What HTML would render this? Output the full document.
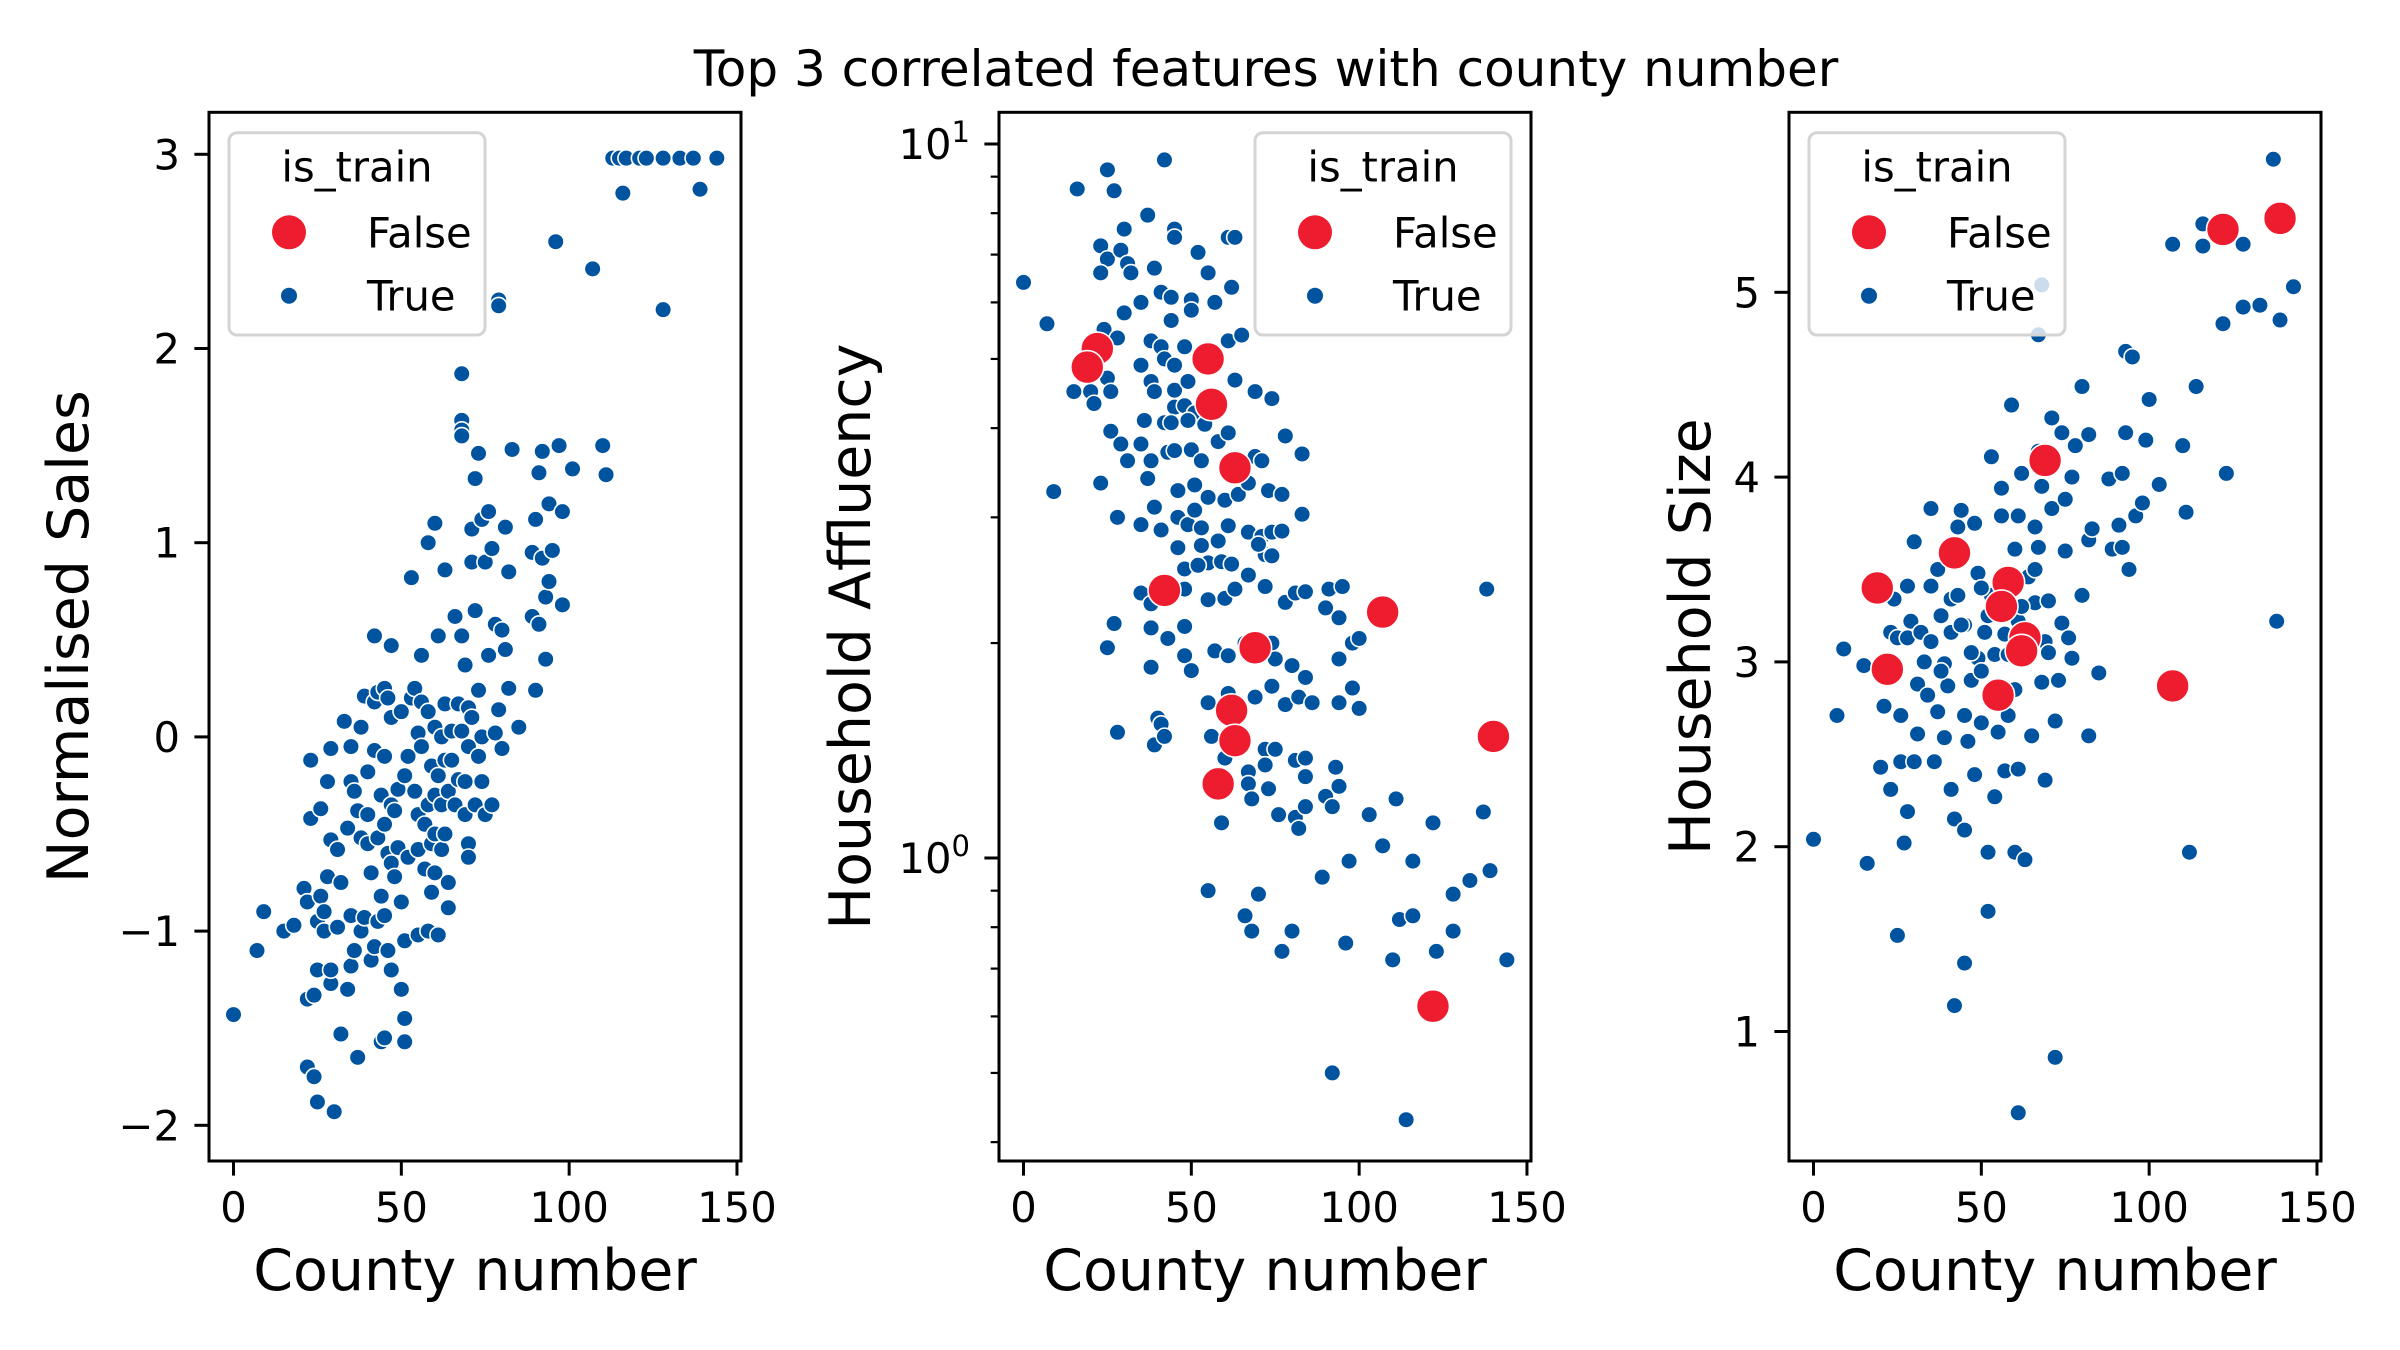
<!DOCTYPE html>
<html><head><meta charset="utf-8">
<style>
html,body{margin:0;padding:0;background:#fff;}
svg{display:block;font-family:"DejaVu Sans","Liberation Sans",sans-serif;}
</style></head>
<body>
<svg id="fig" width="2400" height="1350" viewBox="0 0 2400 1350" xmlns="http://www.w3.org/2000/svg">
<rect width="2400" height="1350" fill="#fff"/>
<text x="1266" y="86" font-size="50" text-anchor="middle">Top 3 correlated features with county number</text>
<g id="p1"></g>
<g id="p2"></g>
<g id="p3"></g>
</svg>
<script>
// ---- data ----
const xTicks = [0, 50, 100, 150];
const p1YTicks = [-2, -1, 0, 1, 2, 3];
const p2YMajor = [1, 10];
const p2YMinor = [0.4,0.5,0.6,0.7,0.8,0.9,2,3,4,5,6,7,8,9];
const p3YTicks = [1, 2, 3, 4, 5];
const legendLabels = ["False", "True"];

const p1True = [[0,-1.43],[7,-1.1],[9,-0.9],[15,-1.0],[18,-0.97],[21,-0.78],[22,-0.85],[22,-1.35],[22,-1.7],[23,-0.12],[23,-0.42],[24,-1.33],[24,-1.75],[25,-0.95],[25,-1.2],[25,-1.88],[26,-0.82],[26,-0.37],[27,-0.9],[27,-1.0],[28,-0.23],[28,-0.72],[29,-0.06],[29,-0.53],[29,-1.27],[29,-1.2],[30,-1.93],[31,-0.58],[31,-0.98],[32,-0.75],[32,-1.53],[33,0.08],[34,-0.47],[34,-1.3],[35,-0.23],[35,-0.05],[35,-0.92],[35,-1.18],[36,-0.28],[36,-1.1],[37,-0.38],[37,-1.65],[38,0.05],[38,-0.52],[38,-1.0],[39,0.21],[39,-0.93],[40,-0.55],[40,-0.18],[40,-0.4],[41,-1.15],[41,-0.7],[42,0.52],[42,0.18],[42,-0.07],[42,-1.08],[43,0.23],[43,-0.52],[43,-0.95],[44,-0.3],[44,-0.82],[44,-1.57],[45,0.25],[45,-0.1],[45,-0.45],[45,-0.92],[45,-1.55],[46,0.2],[46,-0.6],[46,-1.1],[47,0.47],[47,0.1],[47,-0.35],[47,-0.65],[47,-1.2],[48,-0.38],[48,-0.72],[49,-0.27],[49,-0.57],[50,0.13],[50,-0.85],[50,-1.3],[51,-0.2],[51,-1.05],[51,-1.45],[51,-1.57],[52,-0.1],[52,-0.62],[53,0.82],[53,0.2],[54,0.25],[54,-0.28],[55,0.02],[55,-0.4],[55,-0.58],[55,-1.02],[56,0.42],[56,0.18],[56,-0.05],[57,-0.45],[57,-0.68],[58,1.0],[58,0.13],[58,-0.35],[58,-1.0],[59,-0.15],[59,-0.55],[59,-0.8],[60,1.1],[60,0.05],[60,-0.3],[60,-0.5],[60,-0.7],[61,0.52],[61,-0.2],[61,-1.02],[62,0.0],[62,-0.35],[62,-0.58],[63,0.86],[63,0.17],[63,-0.12],[63,-0.5],[64,-0.28],[64,-0.75],[64,-0.88],[65,0.03],[65,-0.12],[66,0.62],[66,-0.35],[67,0.17],[67,-0.22],[68,1.87],[68,1.63],[68,1.58],[68,1.55],[68,0.52],[68,0.03],[69,0.37],[69,-0.23],[69,-0.4],[70,0.15],[70,-0.05],[70,-0.55],[70,-0.62],[71,1.07],[71,0.9],[71,0.1],[72,1.33],[72,0.65],[72,-0.35],[73,1.46],[73,0.24],[73,-0.1],[74,1.12],[74,0.0],[74,-0.23],[75,0.9],[75,-0.4],[76,1.16],[76,0.42],[77,0.97],[77,-0.35],[78,0.58],[78,0.02],[79,2.25],[79,2.22],[79,0.14],[80,0.55],[80,-0.06],[81,1.08],[81,0.45],[82,0.85],[82,0.25],[83,1.48],[85,0.05],[89,0.95],[89,0.62],[90,1.12],[90,0.24],[91,1.36],[91,0.58],[92,1.47],[92,0.92],[93,0.72],[93,0.4],[94,1.2],[94,0.8],[95,0.96],[96,2.55],[97,1.5],[98,1.16],[98,0.68],[101,1.38],[107,2.41],[110,1.5],[111,1.35],[113,2.98],[115,2.98],[116,2.8],[117,2.98],[121,2.98],[123,2.98],[128,2.98],[128,2.2],[133,2.98],[137,2.98],[139,2.82],[144,2.98]];

const p2True = [[0,6.4],[7,5.6],[9,3.26],[16,8.65],[25,9.2],[27,8.6],[42,9.5],[37,7.95],[30,7.6],[23,7.2],[25,6.9],[23,6.6],[29,7.1],[31,6.8],[32,6.6],[39,6.7],[45,7.6],[45,7.4],[52,7.05],[55,6.6],[61,7.4],[63,7.4],[57,6.0],[62,6.3],[41,6.2],[44,6.1],[50,6.05],[50,5.85],[44,5.66],[35,6.0],[30,5.8],[24,5.5],[28,5.35],[38,5.3],[41,5.2],[48,5.2],[61,5.3],[65,5.4],[35,4.9],[42,5.0],[45,4.9],[25,4.7],[26,4.5],[15,4.5],[20,4.5],[21,4.33],[38,4.65],[39,4.5],[45,4.52],[49,4.65],[63,4.67],[69,4.5],[74,4.4],[45,4.28],[48,4.3],[51,4.2],[36,4.1],[42,4.07],[44,4.07],[49,4.1],[54,4.05],[26,3.96],[29,3.8],[35,3.8],[31,3.6],[38,3.6],[43,3.7],[45,3.72],[50,3.73],[53,3.6],[58,3.83],[61,3.94],[69,3.65],[71,3.6],[78,3.9],[83,3.68],[37,3.4],[46,3.27],[51,3.33],[55,3.2],[60,3.17],[64,3.23],[67,3.35],[73,3.27],[77,3.23],[23,3.35],[28,3.0],[35,2.93],[39,3.1],[41,2.88],[46,3.0],[49,2.93],[51,3.07],[53,2.9],[58,2.78],[61,2.92],[67,2.86],[71,2.82],[74,2.86],[77,2.87],[83,3.03],[46,2.72],[53,2.74],[55,2.59],[59,2.6],[62,2.58],[72,2.66],[74,2.65],[70,2.75],[48,2.54],[52,2.57],[35,2.35],[38,2.27],[48,2.38],[55,2.3],[60,2.31],[63,2.38],[67,2.49],[72,2.4],[78,2.28],[81,2.35],[84,2.36],[90,2.24],[91,2.38],[95,2.4],[94,2.17],[138,2.38],[27,2.13],[25,1.97],[38,2.1],[43,2.03],[48,2.11],[48,1.92],[50,1.83],[57,1.95],[61,1.92],[66,2.0],[74,2.0],[75,1.9],[80,1.86],[84,1.79],[94,1.9],[98,2.0],[100,2.03],[38,1.85],[55,1.65],[61,1.7],[69,1.68],[74,1.74],[78,1.64],[82,1.68],[86,1.65],[94,1.65],[98,1.73],[100,1.62],[40,1.57],[41,1.54],[28,1.5],[39,1.44],[42,1.48],[56,1.48],[60,1.38],[67,1.32],[72,1.42],[75,1.42],[67,1.27],[72,1.35],[73,1.25],[81,1.37],[84,1.38],[84,1.3],[93,1.34],[94,1.26],[90,1.22],[92,1.18],[76,1.15],[81,1.14],[82,1.1],[84,1.18],[103,1.15],[107,1.04],[111,1.21],[68,1.21],[59,1.12],[122,1.12],[137,1.16],[97,0.99],[89,0.94],[116,0.99],[55,0.9],[66,0.83],[70,0.89],[68,0.79],[77,0.74],[80,0.79],[96,0.76],[112,0.82],[116,0.83],[110,0.72],[123,0.74],[128,0.89],[133,0.93],[128,0.79],[139,0.96],[144,0.72],[92,0.5],[114,0.43]];
const p2False = [[22,5.17],[19,4.87],[55,5.0],[56,4.32],[63,3.52],[42,2.37],[69,1.97],[107,2.21],[62,1.61],[63,1.46],[58,1.27],[140,1.48],[122,0.62]];

const p3True = [[0,2.04],[7,2.71],[9,3.07],[15,2.98],[16,1.91],[20,2.43],[21,2.76],[23,2.31],[23,3.16],[24,3.34],[25,1.52],[25,3.13],[26,2.46],[26,2.71],[27,2.02],[28,3.13],[28,3.41],[28,2.19],[29,3.22],[30,2.46],[30,3.65],[31,2.61],[31,2.88],[32,3.16],[34,2.82],[35,3.83],[35,3.41],[35,3.11],[36,2.46],[37,2.73],[37,3.5],[38,3.25],[39,2.99],[39,2.59],[40,2.87],[41,2.31],[41,3.16],[41,3.34],[42,2.15],[42,1.14],[43,3.73],[43,3.36],[44,3.82],[45,2.09],[45,3.2],[45,2.71],[45,1.37],[46,2.57],[47,2.9],[48,3.75],[48,2.39],[49,3.48],[49,3.02],[50,2.67],[50,2.95],[51,3.16],[52,1.97],[52,1.65],[53,4.11],[53,3.36],[54,2.27],[54,3.04],[55,2.62],[56,3.79],[56,3.94],[57,2.41],[58,2.71],[58,3.04],[59,4.39],[60,3.61],[60,1.97],[61,3.22],[61,3.79],[61,0.56],[61,2.42],[62,4.02],[63,1.93],[64,3.46],[65,2.6],[66,3.73],[66,3.32],[67,3.62],[67,4.14],[67,4.77],[68,3.95],[68,5.04],[68,2.89],[69,2.36],[69,3.11],[70,3.33],[71,4.32],[71,3.83],[72,0.86],[72,2.68],[73,2.9],[74,4.24],[74,3.21],[75,3.88],[75,3.6],[76,3.13],[77,4.0],[77,3.02],[78,4.17],[80,4.49],[80,3.36],[82,4.23],[82,3.66],[82,2.6],[83,3.72],[85,2.94],[88,3.99],[89,3.61],[91,3.74],[92,4.02],[92,3.62],[93,4.24],[93,4.68],[94,3.5],[95,4.65],[96,3.79],[98,3.86],[99,4.2],[100,4.42],[103,3.96],[107,5.26],[110,4.17],[111,3.81],[112,1.97],[114,4.49],[116,5.37],[116,5.25],[122,4.83],[123,4.02],[128,5.26],[128,4.92],[133,4.93],[137,5.72],[138,3.22],[139,4.85],[143,5.03],[44,3.2],[47,3.05],[52,3.25],[57,3.15],[62,3.3],[65,3.1],[70,3.05],[33,3.0],[38,2.95],[50,3.4],[60,2.85],[66,3.5]];
const p3False = [[19,3.4],[22,2.96],[42,3.59],[58,3.43],[56,3.3],[63,3.13],[62,3.06],[55,2.82],[69,4.09],[122,5.34],[139,5.4],[107,2.87]];

// ---- layout ----
const NS = "http://www.w3.org/2000/svg";
const BLUE = "#00539f", RED = "#ee1c2f";
const TOP = 112.3, BOT = 1161;
const XMIN = -7.3, XMAX = 151.2;

function mk(tag, attrs, parent){
  const e = document.createElementNS(NS, tag);
  for (const k in attrs) e.setAttribute(k, attrs[k]);
  parent.appendChild(e);
  return e;
}
function xScale(left){ const w = 532; return v => left + (v - XMIN) / (XMAX - XMIN) * w; }

function drawPanel(g, left, yFn, opts){
  const sx = xScale(left);
  const right = left + 532;
  // points
  const pts = mk('g', {}, g);
  
  
  opts.trueData.forEach(d => {
    const c = mk('circle', {cx: sx(d[0]), cy: yFn(d[1]), r: 8.3, fill: BLUE, stroke: '#fff', 'stroke-width': 1.6}, pts);
    
    
  });
  opts.falseData.forEach(d => {
    const c = mk('circle', {cx: sx(d[0]), cy: yFn(d[1]), r: 16.5, fill: RED, stroke: '#fff', 'stroke-width': 1.6}, pts);
    
    
  });
  // frame
  const fr = mk('rect', {x: left, y: TOP, width: 532, height: BOT - TOP, fill: 'none', stroke: '#000', 'stroke-width': 3}, g);
  
  
  // x ticks
  xTicks.forEach(t => {
    const x = sx(t);
    const l = mk('line', {x1: x, x2: x, y1: BOT, y2: BOT + 14.6, stroke: '#000', 'stroke-width': 3}, g);
    
    
    const tx = mk('text', {x: x, y: 1222, 'font-size': 41.7, 'text-anchor': 'middle'}, g);
    tx.textContent = t;
    
    
  });
  const xl = mk('text', {x: (left + right) / 2, y: 1290, 'font-size': 57, 'text-anchor': 'middle'}, g);
  xl.textContent = 'County number';
  
  
  // y ticks
  opts.yTicks.forEach(t => {
    const y = yFn(t);
    const l = mk('line', {x1: left - 14.6, x2: left, y1: y, y2: y, stroke: '#000', 'stroke-width': 3}, g);
    
    
    const tx = mk('text', {x: left - 29, y: y + 15, 'font-size': 41.7, 'text-anchor': 'end'}, g);
    
    
    if (opts.log) {
      const e = Math.round(Math.log10(t));
      tx.textContent = '10';
      const sp = mk('tspan', {'font-size': 29, dy: -17}, tx);
      sp.textContent = e;
    } else {
      tx.textContent = t < 0 ? '\u2212' + Math.abs(t) : t;
    }
  });
  (opts.minor || []).forEach(t => {
    const y = yFn(t);
    const l = mk('line', {x1: left - 8.3, x2: left, y1: y, y2: y, stroke: '#000', 'stroke-width': 2.2}, g);
    
    
  });
  const cy = (TOP + BOT) / 2;
  const yl = mk('text', {x: opts.yLabelX, y: cy, 'font-size': 57, 'text-anchor': 'middle', transform: `rotate(-90 ${opts.yLabelX} ${cy})`}, g);
  yl.textContent = opts.yLabel;
  
  
  // legend
  const bx = opts.legendRight ? right - 20 - 256 : left + 20;
  const lg = mk('g', {}, g);
  
  
  mk('rect', {x: bx, y: 132.7, width: 256, height: 202.3, rx: 8, fill: 'rgba(255,255,255,0.8)', stroke: '#d4d4d4', 'stroke-width': 3}, lg);
  const lt = mk('text', {x: bx + 128, y: 181.7, 'font-size': 41.7, 'text-anchor': 'middle'}, lg);
  lt.textContent = 'is_train';
  
  
  legendLabels.forEach((lab, i) => {
    const yy = i === 0 ? 232.3 : 295.7;
    const ent = mk('g', {}, lg);
    
    
    mk('circle', {cx: bx + 60, cy: yy, r: i === 0 ? 17 : 8, fill: i === 0 ? RED : BLUE}, ent);
    const tx = mk('text', {x: bx + 138, y: yy + 15, 'font-size': 41.7}, ent);
    tx.textContent = lab;
  });
}

// panel 1
const p1y = v => 154.3 + (3 - v) * 194.2;
drawPanel(document.getElementById('p1'), 209, p1y, {trueData: p1True, falseData: [], yTicks: p1YTicks, yLabel: 'Normalised Sales', yLabelX: 88});
// panel 2 (log)
const p2y = v => 144 + (1 - Math.log10(v)) * 714;
drawPanel(document.getElementById('p2'), 999, p2y, {trueData: p2True, falseData: p2False, yTicks: p2YMajor, minor: p2YMinor, log: true, yLabel: 'Household Affluency', yLabelX: 870, legendRight: true});
// panel 3
const p3y = v => 292.3 + (5 - v) * 184.8;
drawPanel(document.getElementById('p3'), 1789, p3y, {trueData: p3True, falseData: p3False, yTicks: p3YTicks, yLabel: 'Household Size', yLabelX: 1710});
</script>
</body></html>
